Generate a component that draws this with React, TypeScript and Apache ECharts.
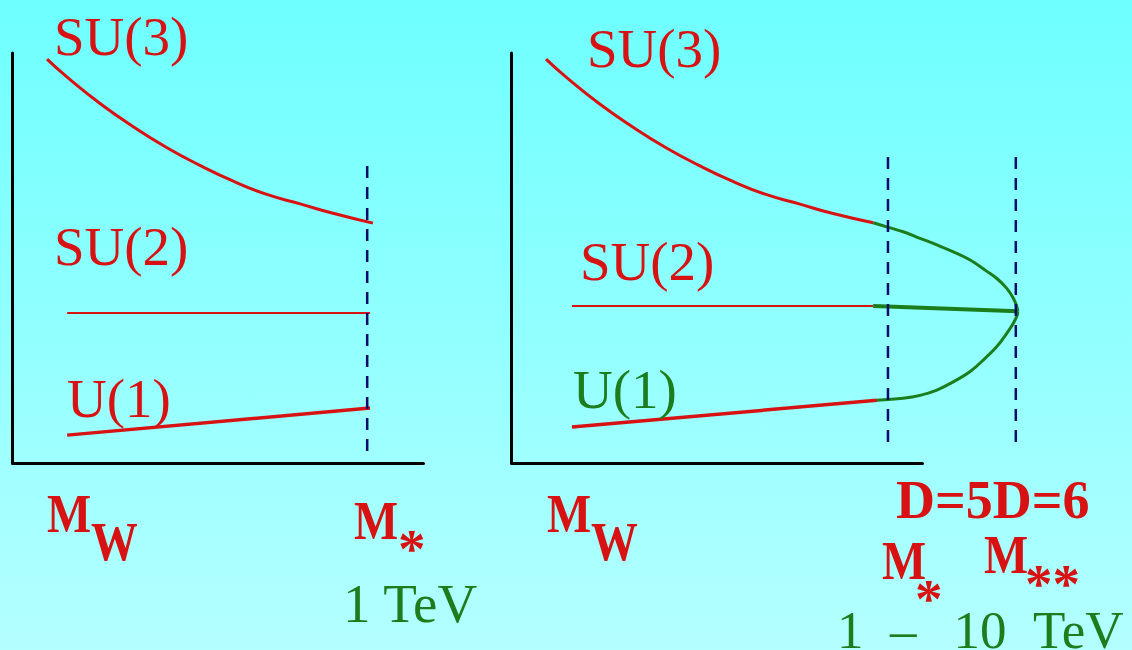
import React, { useEffect, useRef } from "react";
import * as echarts from "echarts";

// ---- data (abstract units: x 0..100 spans each drawn axis, y 0..100 spans axis height) ----
const leftSU3 = [[8.4, 98.5], [13.3, 94.1], [21.3, 87.7], [29.3, 82.1], [37.6, 76.9], [45.6, 72.6], [53.6, 68.8], [61.9, 65.5], [70.0, 63.2], [78.0, 60.9], [87.7, 58.5]];
const leftSU2 = [[13.3, 36.6], [87.0, 36.6]];
const leftU1 = [[13.3, 6.8], [87.0, 13.4]];
const leftMstar = [[86.3, 2.9], [86.3, 73.4]];

const rightSU3 = [[8.4, 98.5], [13.3, 94.1], [21.3, 87.7], [29.3, 82.1], [37.6, 76.9], [45.6, 72.6], [53.6, 68.8], [61.9, 65.5], [70.0, 63.2], [78.0, 60.9], [88.0, 58.6]];
const rightSU2 = [[14.7, 38.3], [88.0, 38.3]];
const rightU1 = [[14.7, 8.8], [88.9, 15.3]];
const greenSU3 = [[88.0, 58.6], [91.3, 57.6], [95.3, 56.4], [99.4, 54.8], [103.5, 53.2], [107.5, 51.5], [111.6, 49.5], [115.6, 46.8], [118.1, 45.0], [120.5, 42.6], [122.1, 40.2], [122.9, 38.3], [123.2, 37.0]];
const greenSU2 = [[88.0, 38.3], [123.2, 37.0]];
const greenU1 = [[88.9, 15.3], [95.3, 15.8], [99.4, 16.5], [103.5, 17.8], [107.5, 19.8], [111.6, 22.3], [115.6, 25.9], [118.1, 28.4], [120.5, 31.6], [122.1, 34.1], [123.0, 35.9], [123.2, 37.0]];
const rightMstar = [[91.6, 5.1], [91.6, 75.4]];
const rightMstarstar = [[122.7, 5.1], [122.7, 75.4]];

const RED = "#d81212";
const GREEN = "#1c7d1c";
const NAVY = "#0b0b6b";
const SERIF = "'Liberation Serif', 'Times New Roman', serif";

function label(text: string, x: number, baseline: number, size: number, color: string, bold = false, scaleX = 1) {
  return {
    type: "text",
    x,
    y: baseline - 0.3375 * size,
    scaleX,
    z: 10,
    style: {
      text,
      fill: color,
      font: `${bold ? "bold " : ""}${size}px ${SERIF}`,
      lineHeight: Math.round(size * 0.75),
      textAlign: "left",
      textVerticalAlign: "middle",
      align: "left",
      verticalAlign: "middle",
    },
  };
}

export default function App() {
  const ref = useRef<HTMLDivElement>(null);
  useEffect(() => {
    if (!ref.current) return;
    const chart = echarts.init(ref.current, undefined, { renderer: "svg" });
    const axis = (gridIndex: number, max: number, showLine: boolean) => ({
      type: "value",
      gridIndex,
      min: 0,
      max,
      axisLine: { show: showLine, onZero: false, lineStyle: { color: "#000", width: 3 } },
      axisTick: { show: false },
      axisLabel: { show: false },
      splitLine: { show: false },
    });
    const line = (idx: number, data: number[][], color: string, width: number, smooth: boolean | number = false, dashed = false) => ({
      type: "line",
      xAxisIndex: idx,
      yAxisIndex: idx,
      data,
      symbol: "none",
      smooth,
      clip: false,
      silent: true,
      z: dashed ? 5 : 3,
      lineStyle: { color, width, type: dashed ? [12, 9] : "solid", cap: "butt" },
    });
    chart.setOption({
      animation: false,
      backgroundColor: "transparent",
      grid: [
        { left: 12.5, top: 53, width: 411, height: 410 },
        { left: 511.5, top: 53, width: 411 * 1.3, height: 410 },
        { left: 511.5, top: 53, width: 411, height: 410 },
      ],
      xAxis: [axis(0, 100, true), axis(1, 130, false), axis(2, 100, true)],
      yAxis: [axis(0, 100, true), axis(1, 100, true), axis(2, 100, false)],
      series: [
        line(0, leftSU3, RED, 3, 0.5),
        line(0, leftSU2, RED, 2),
        line(0, leftU1, RED, 3.5),
        line(0, leftMstar, NAVY, 2.5, false, true),
        line(1, rightSU3, RED, 3, 0.5),
        line(1, rightSU2, RED, 2),
        line(1, rightU1, RED, 3.5),
        line(1, greenSU3, GREEN, 3, 0.4),
        line(1, greenSU2, GREEN, 4),
        line(1, greenU1, GREEN, 3, 0.4),
        line(1, rightMstar, NAVY, 2.5, false, true),
        line(1, rightMstarstar, NAVY, 2.5, false, true),
      ],
      graphic: [
        label("SU(3)", 54, 55, 55, RED),
        label("SU(2)", 54, 265, 55, RED),
        label("U(1)", 67, 417, 55, RED),
        label("M", 47, 532, 55, RED, true, 0.85),
        label("W", 91, 560, 55, RED, true, 0.85),
        label("M", 354, 539, 55, RED, true, 0.85),
        label("*", 398, 567, 55, RED, true),
        label("1 TeV", 343, 622, 55, GREEN),

        label("SU(3)", 587, 67, 55, RED),
        label("SU(2)", 580, 280, 55, RED),
        label("U(1)", 573, 408, 55, GREEN),
        label("M", 547, 532, 55, RED, true, 0.85),
        label("W", 591, 560, 55, RED, true, 0.85),
        label("D=5D=6", 896, 518, 54, RED, true),
        label("M", 882, 579, 55, RED, true, 0.85),
        label("*", 915, 617, 55, RED, true),
        label("M", 984, 573, 55, RED, true, 0.85),
        label("**", 1025, 602, 55, RED, true),
        label("1\u2002\u2013\u2002\u200910\u2002TeV", 837, 648, 53, GREEN),
      ],
    });
    return () => chart.dispose();
  }, []);
  return (
    <div
      ref={ref}
      style={{
        position: "absolute",
        left: 0,
        top: 0,
        width: 1132,
        height: 650,
        background: "linear-gradient(to bottom, rgb(110,255,255) 0%, rgb(180,255,255) 100%)",
      }}
    />
  );
}
